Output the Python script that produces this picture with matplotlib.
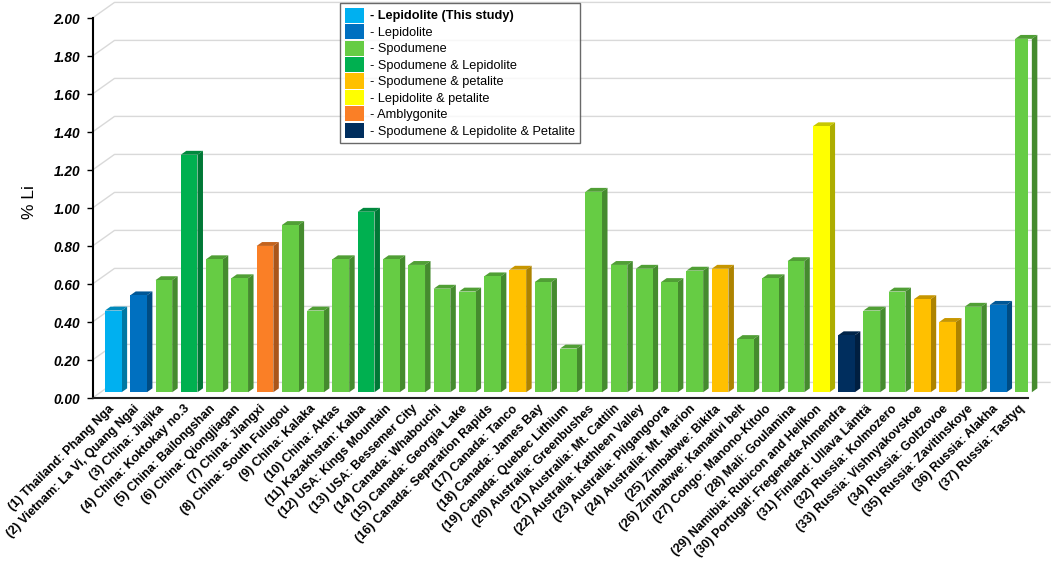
import matplotlib
matplotlib.use("Agg")
import matplotlib.pyplot as plt
from matplotlib.patches import Polygon, Patch
from matplotlib.colors import to_rgb
import numpy as np

plt.rcParams['font.family'] = ['Liberation Sans', 'DejaVu Sans']

labels = [
    "(1) Thailand: Phang Nga", "(2) Vietnam: La Vi, Quang Ngai", "(3) China: Jiajika",
    "(4) China: Koktokay no.3", "(5) China: Bailongshan", "(6) China: Qiongjiagan",
    "(7) China: Jiangxi", "(8) China: South Fulugou", "(9) China: Kalaka",
    "(10) China: Aktas", "(11) Kazakhstan: Kalba", "(12) USA: Kings Mountain",
    "(13) USA: Bessemer City", "(14) Canada: Whabouchi", "(15) Canada: Georgia Lake",
    "(16) Canada: Separation Rapids", "(17) Canada: Tanco", "(18) Canada: James Bay",
    "(19) Canada: Quebec Lithium", "(20) Australia: Greenbushes", "(21) Australia: Mt. Cattlin",
    "(22) Australia: Kathleen Valley", "(23) Australia: Pilgangoora", "(24) Australia: Mt. Marion",
    "(25) Zimbabwe: Bikita", "(26) Zimbabwe: Kamativi belt", "(27) Congo: Manono-Kitolo",
    "(28) Mali: Goulamina", "(29) Namibia: Rubicon and Helikon", "(30) Portugal: Fregeneda-Almendra",
    "(31) Finland: Ullava Länttä", "(32) Russia: Kolmozero", "(33) Russia: Vishnyakovskoe",
    "(34) Russia: Goltzovoe", "(35) Russia: Zavitinskoye", "(36) Russia: Alakha",
    "(37) Russia: Tastyq",
]
values = [0.43, 0.51, 0.59, 1.25, 0.70, 0.60, 0.77, 0.88, 0.43, 0.70, 0.95, 0.70, 0.67,
          0.545, 0.53, 0.61, 0.645, 0.58, 0.23, 1.055, 0.67, 0.65, 0.58, 0.64, 0.65,
          0.28, 0.60, 0.69, 1.40, 0.30, 0.43, 0.53, 0.49, 0.37, 0.45, 0.46, 1.86]
types = ["LT", "L", "S", "SL", "S", "S", "A", "S", "S", "S", "SL", "S", "S", "S", "S", "S",
         "SP", "S", "S", "S", "S", "S", "S", "S", "SP", "S", "S", "S", "LP", "SLP", "S", "S",
         "SP", "SP", "S", "L", "S"]

type_names = ["LT", "L", "S", "SL", "SP", "LP", "A", "SLP"]
legend_labels = ["- Lepidolite (This study)", "- Lepidolite", "- Spodumene",
                 "- Spodumene & Lepidolite", "- Spodumene & petalite", "- Lepidolite & petalite",
                 "- Amblygonite", "- Spodumene & Lepidolite & Petalite"]
type_colors = {"LT": "#00B0F0", "L": "#0070C0", "S": "#66CC44", "SL": "#00B050",
               "SP": "#FFC000", "LP": "#FFFF00", "A": "#FA7F26", "SLP": "#002E5E"}

yticks = [0.0, 0.2, 0.4, 0.6, 0.8, 1.0, 1.2, 1.4, 1.6, 1.8, 2.0]

W, H = 1052, 562
fig = plt.figure(figsize=(W / 100, H / 100), dpi=100)
ax = fig.add_axes([92.5 / W, 164 / H, (1028 - 92.5) / W, 380 / H])
n = len(values)
ax.set_xlim(-0.5, n - 0.5)
ax.set_ylim(0, 2.0)

# oblique depth projection (data units per full depth)
kx, ky = 0.87, 0.082
f = 0.37      # bar front depth
d = 0.25      # bar depth
bw = 0.66

# back wall gridlines with left wall diagonals
for v in yticks:
    ax.plot([-0.5, -0.5 + kx, n - 0.5 + kx], [v, v + ky, v + ky],
            color="#D9D9D9", lw=1.0, zorder=0, clip_on=False)

def shade(c, k):
    r, g, b = to_rgb(c)
    return (r * k, g * k, b * k)

x = np.arange(n)
cols = [type_colors[t] for t in types]
ax.bar(x + f * kx, values, width=bw, bottom=f * ky, color=cols, zorder=3,
       edgecolor="none")
for xi, v, c in zip(x, values, cols):
    xl = xi - bw / 2 + f * kx
    xr = xi + bw / 2 + f * kx
    b0 = f * ky
    top = Polygon([(xl, v + b0), (xr, v + b0), (xr + d * kx, v + b0 + d * ky),
                   (xl + d * kx, v + b0 + d * ky)], closed=True,
                  facecolor=shade(c, 0.78), edgecolor="none", zorder=2, clip_on=False)
    side = Polygon([(xr, b0), (xr, v + b0), (xr + d * kx, v + b0 + d * ky),
                    (xr + d * kx, b0 + d * ky)], closed=True,
                   facecolor=shade(c, 0.68), edgecolor="none", zorder=2, clip_on=False)
    ax.add_patch(top)
    ax.add_patch(side)

for s in ["top", "right"]:
    ax.spines[s].set_visible(False)
ax.spines["left"].set_color("black")
ax.spines["left"].set_linewidth(1.5)
ax.spines["bottom"].set_color("#222222")
ax.spines["bottom"].set_linewidth(1.5)

ax.set_yticks(yticks)
ax.set_yticklabels([f"{v:.2f}" for v in yticks], fontsize=9.8, fontweight="bold",
                   fontstyle="italic")
ax.tick_params(axis="y", direction="out", length=4, width=1, pad=5, colors="black")
ax.set_xticks(x + 0.1)
ax.set_xticklabels(labels, rotation=45, ha="right", va="top", rotation_mode="anchor",
                   fontsize=9.0, fontweight="bold")
ax.tick_params(axis="x", length=0, pad=3.5)

ax.set_ylabel("% Li", fontsize=12.5)
ax.yaxis.set_label_coords(-0.059, 0.516)

handles = [Patch(facecolor=type_colors[t], edgecolor="none") for t in type_names]
leg = fig.legend(handles, legend_labels, loc="upper left",
                 bbox_to_anchor=(340 / W, 1 - 2.5 / H), fontsize=9.2, frameon=True,
                 fancybox=False, handlelength=1.5, handleheight=1.45, labelspacing=0.1,
                 handletextpad=0.45, borderpad=0.4, borderaxespad=0)
leg.get_frame().set_edgecolor("#444444")
leg.get_frame().set_linewidth(1.0)
leg.get_texts()[0].set_fontweight("bold")

fig.savefig("out.png", dpi=100)
